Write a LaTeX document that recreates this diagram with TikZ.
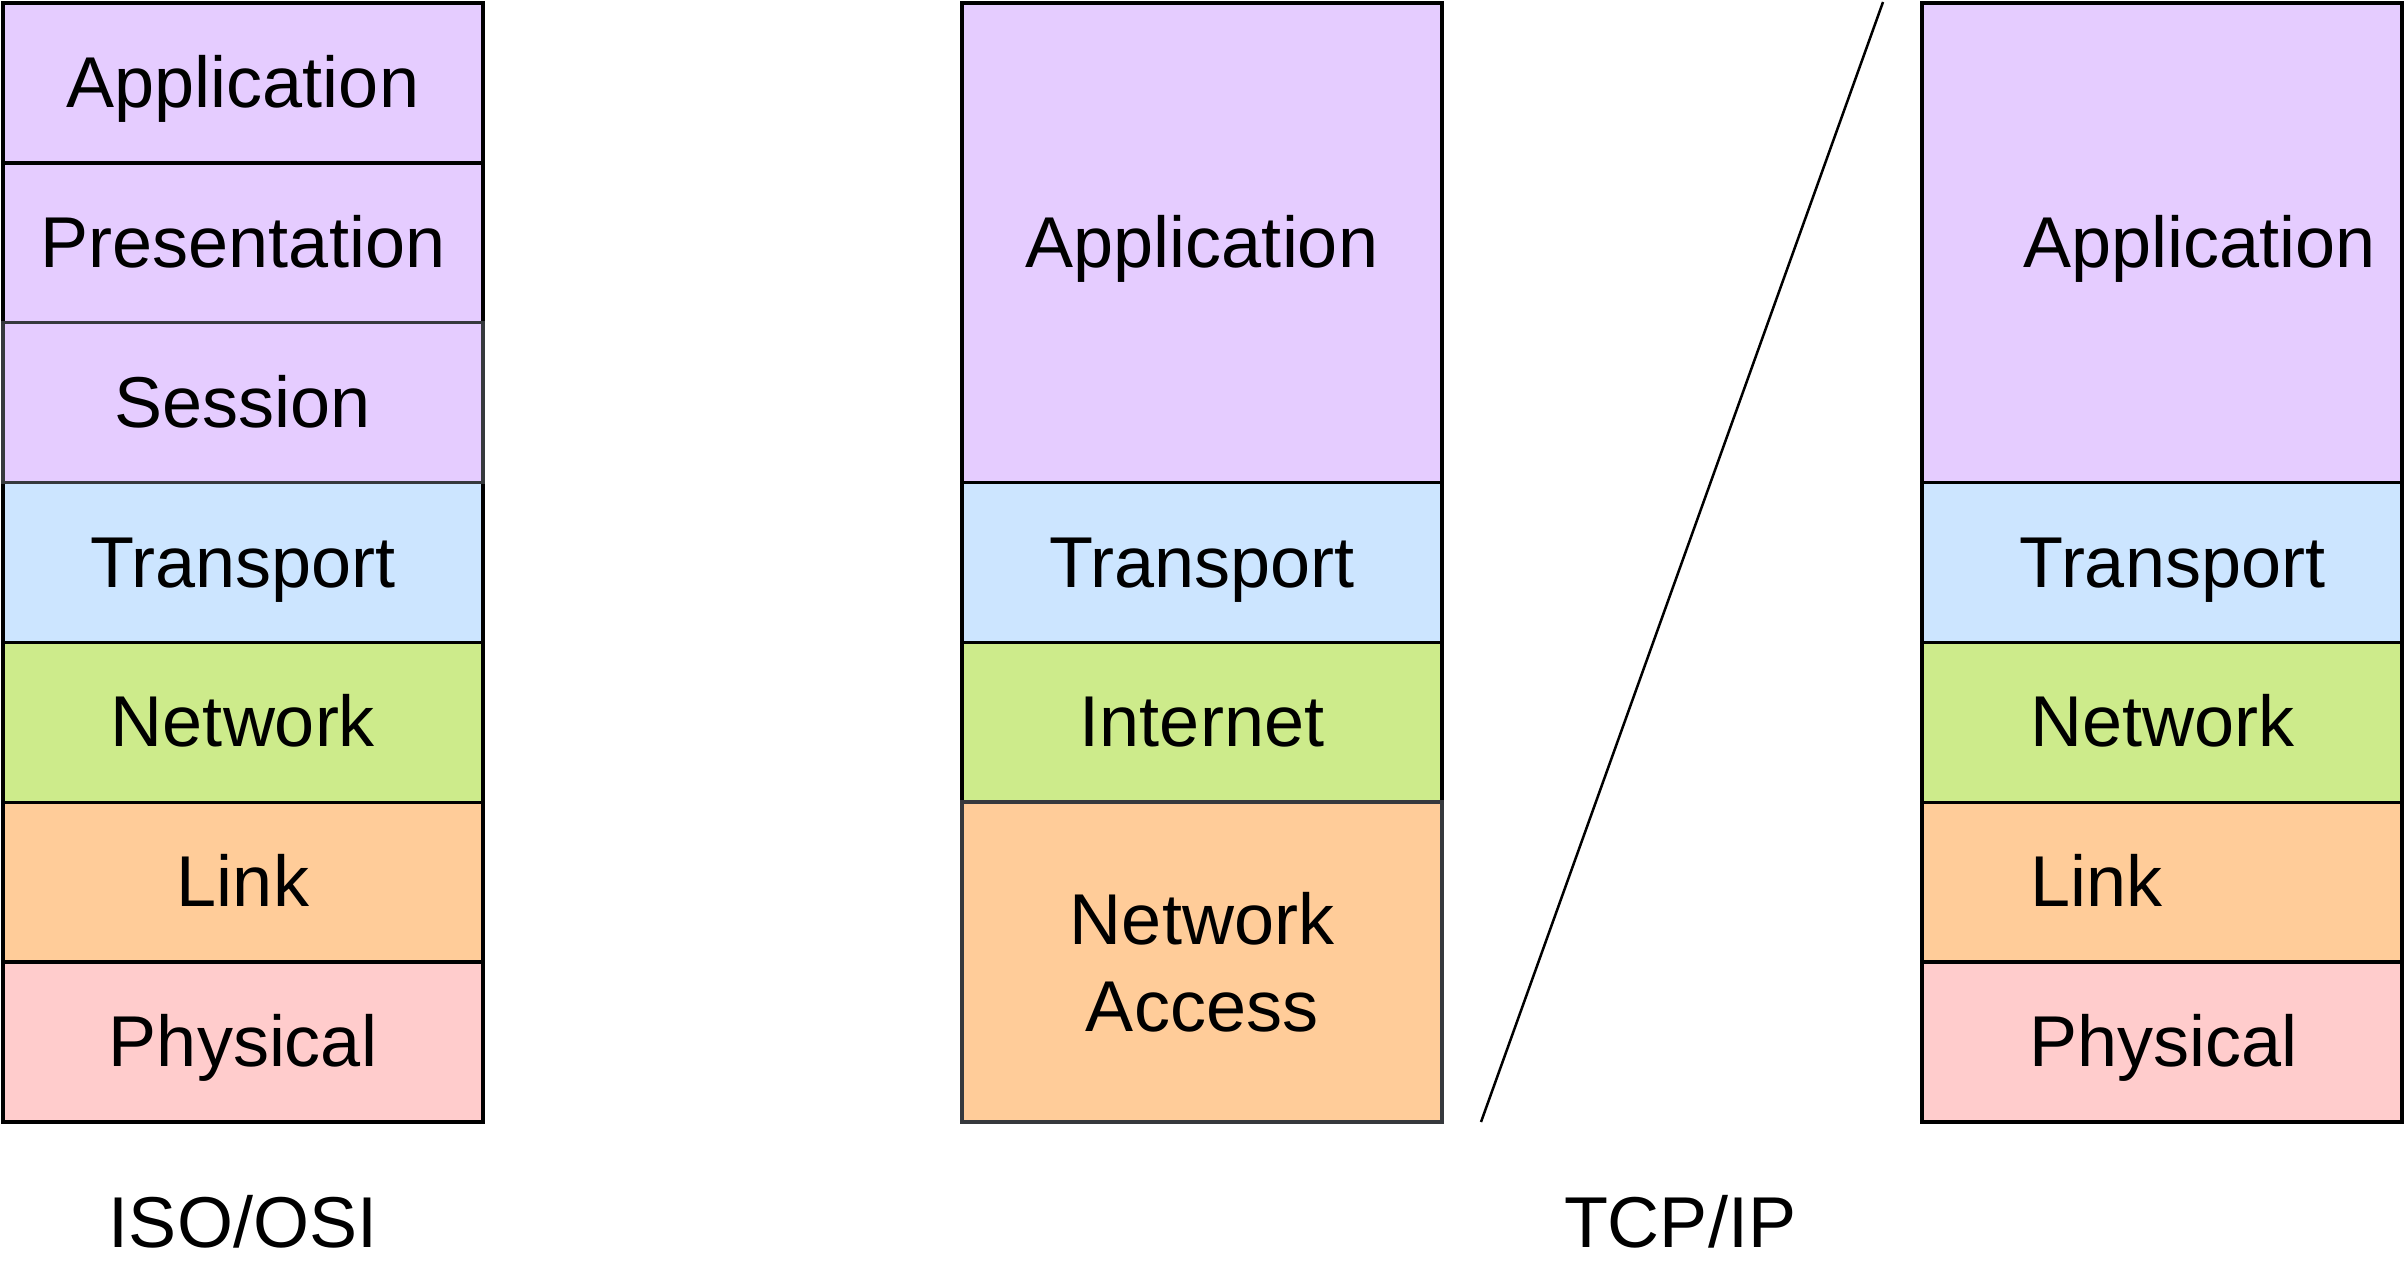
\documentclass[tikz,border=0pt]{standalone}
\usepackage{fontspec}
\setmainfont{Liberation Sans}
\usepackage{tikz}
\usetikzlibrary{positioning}
\definecolor{LayPurple}{HTML}{E5CCFF}
\definecolor{LayBlue}{HTML}{CCE5FF}
\definecolor{LayGreen}{HTML}{CDEB8B}
\definecolor{LayOrange}{HTML}{FFCC99}
\definecolor{LayPink}{HTML}{FFCCCC}
\definecolor{LayGray}{HTML}{36393D}
\tikzset{
    layer/.style={
    draw=black,
    line width=1.75pt,
    minimum width=240pt,
    minimum height=79.93pt,
    inner sep=0pt,
    text height=33.5pt,
    text depth=9pt,
    font=\fontsize{36}{43.2}\selectfont
    },
    layertext/.style={
    inner sep=0pt,
    text height=33.5pt,
    text depth=9pt,
    font=\fontsize{36}{43.2}\selectfont
    }
}

\begin{document}
\begin{tikzpicture}[x=0.5pt,y=-0.5pt]
\useasboundingbox (0,0) rectangle (2404,1284);
\node[layer,fill=LayPurple] (osiapp) at (243,82.9) {Application};
\node[layer,fill=LayPurple] (osipres) at (243,242.8) {Presentation};
\node[layer,fill=LayBlue] (ositrans) at (243,562.5) {Transport};
\node[layer,fill=LayGreen] (osinet) at (243,722.4) {Network};
\node[layer,fill=LayOrange] (osilink) at (243,882.2) {Link};
\node[layer,fill=LayPink] (osiphys) at (243,1042.1) {Physical};
\node[layer,fill=LayPurple,draw=LayGray] (osisess) at (243,402.6) {Session};
\node[layertext,anchor=base] (osiname) at (243,1247) {ISO/OSI};
\node[layer,fill=LayPurple,minimum height=239.8pt] (tcpapp) at (1202,242.8) {Application};
\node[layer,fill=LayBlue] (tcptrans) at (1202,562.5) {Transport};
\node[layer,fill=LayGreen] (tcpnet) at (1202,722.4) {Internet};
\node[layer,fill=LayOrange,draw=LayGray,minimum height=159.86pt,text height=,text depth=,align=center] (tcpacc) at (1202,962.1) {Network\\Access};
\coordinate (slashbot) at (1481,1122);
\coordinate (slashtop) at (1883,2);
\draw[line width=1.25pt] (slashbot) -- (slashtop);
\node[layertext,anchor=base] (tcpname) at (1680,1247) {TCP/IP};
\node[layer,fill=LayPurple,minimum height=239.8pt] (hybapp) at (2162,242.8) {};
\node[layer,fill=LayBlue] (hybtrans) at (2162,562.5) {};
\node[layer,fill=LayGreen] (hybnet) at (2162,722.4) {};
\node[layer,fill=LayOrange] (hyblink) at (2162,882.2) {};
\node[layer,fill=LayPink] (hybphys) at (2162,1042.1) {};
\node[layertext,right=51.5pt of hybapp.west] (hybapptext) {Application};
\node[layertext,right=49.5pt of hybtrans.west] (hybtranstext) {Transport};
\node[layertext,right=55pt of hybnet.west] (hybnettext) {Network};
\node[layertext,right=55pt of hyblink.west] (hyblinktext) {Link};
\node[layertext,right=54.5pt of hybphys.west] (hybphystext) {Physical};
\end{tikzpicture}
\end{document}
